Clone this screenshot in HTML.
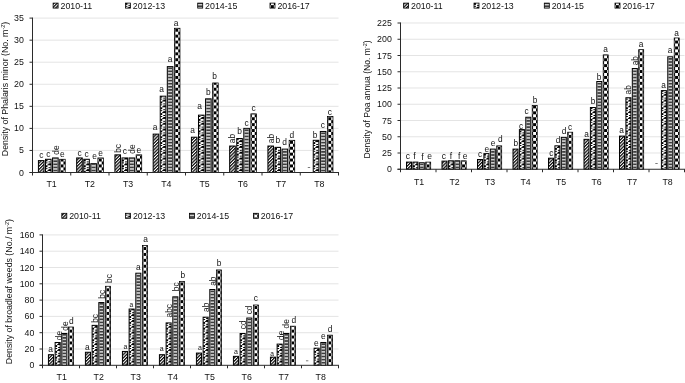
<!DOCTYPE html>
<html><head><meta charset="utf-8"><title>Chart</title>
<style>html,body{margin:0;padding:0;background:#fff;}body{width:685px;height:383px;overflow:hidden;font-family:"Liberation Sans",sans-serif;}svg{display:block;opacity:0.999;will-change:transform}</style>
</head><body>
<svg width="685" height="383" viewBox="0 0 685 383" font-family="Liberation Sans, sans-serif"><defs>
<pattern id="p0" patternUnits="userSpaceOnUse" width="2.3" height="2.3" patternTransform="rotate(45)">
<rect width="2.3" height="2.3" fill="#fff"/><rect width="1.25" height="2.3" fill="#0a0a0a"/></pattern>
<pattern id="p1" patternUnits="userSpaceOnUse" width="12" height="5.8" shape-rendering="crispEdges">
<rect width="12" height="5.8" fill="#fff"/>
<rect x="0" y="0.1" width="1.9" height="1.3" fill="#000"/>
<rect x="3.2" y="1.3" width="4" height="1.4" fill="#000"/>
<rect x="1.6" y="2.1" width="0.9" height="0.9" fill="#000"/>
<rect x="0.4" y="3.1" width="2.0" height="1.3" fill="#000"/>
<rect x="2.9" y="4.4" width="1.6" height="1.3" fill="#000"/>
<rect x="4.3" y="3.4" width="3" height="0.9" fill="#000"/>
</pattern>
<pattern id="p2" patternUnits="userSpaceOnUse" width="12" height="3.1">
<rect width="12" height="3.1" fill="#3c3c3c"/><rect y="0.9" width="12" height="1.35" fill="#e4e4e4"/></pattern>
<pattern id="p3" patternUnits="userSpaceOnUse" width="5.9" height="5.9" patternTransform="translate(0.9,2.2)">
<rect width="5.9" height="5.9" fill="#000"/><rect x="0" y="0" width="2.95" height="2.95" fill="#fff"/><rect x="2.95" y="2.95" width="2.95" height="2.95" fill="#fff"/></pattern>
</defs>
<line x1="32.5" y1="150.44" x2="338.5" y2="150.44" stroke="#d9d9d9" stroke-width="0.7"/>
<line x1="32.5" y1="128.39" x2="338.5" y2="128.39" stroke="#d9d9d9" stroke-width="0.7"/>
<line x1="32.5" y1="106.33" x2="338.5" y2="106.33" stroke="#d9d9d9" stroke-width="0.7"/>
<line x1="32.5" y1="84.27" x2="338.5" y2="84.27" stroke="#d9d9d9" stroke-width="0.7"/>
<line x1="32.5" y1="62.21" x2="338.5" y2="62.21" stroke="#d9d9d9" stroke-width="0.7"/>
<line x1="32.5" y1="40.16" x2="338.5" y2="40.16" stroke="#d9d9d9" stroke-width="0.7"/>
<line x1="32.5" y1="18.10" x2="338.5" y2="18.10" stroke="#d9d9d9" stroke-width="0.7"/>
<g transform="translate(38.42,0)"><rect x="0" y="160.59" width="5.6" height="11.91" fill="url(#p0)" stroke="#000" stroke-width="1.0"/></g>
<g transform="translate(45.49,0)"><rect x="0" y="159.27" width="5.6" height="13.23" fill="url(#p1)" stroke="#000" stroke-width="1.0"/></g>
<g transform="translate(52.56,0)"><rect x="0" y="157.94" width="5.6" height="14.56" fill="#a8a8a8" stroke="#000" stroke-width="1.0"/><rect x="0.9" y="158.44" width="3.80" height="14.06" fill="url(#p2)"/></g>
<g transform="translate(59.63,0)"><rect x="0" y="159.27" width="5.6" height="13.23" fill="url(#p3)" stroke="#000" stroke-width="0.75"/></g>
<g transform="translate(76.67,0)"><rect x="0" y="157.94" width="5.6" height="14.56" fill="url(#p0)" stroke="#000" stroke-width="1.0"/></g>
<g transform="translate(83.74,0)"><rect x="0" y="159.27" width="5.6" height="13.23" fill="url(#p1)" stroke="#000" stroke-width="1.0"/></g>
<g transform="translate(90.81,0)"><rect x="0" y="163.68" width="5.6" height="8.82" fill="#a8a8a8" stroke="#000" stroke-width="1.0"/><rect x="0.9" y="164.18" width="3.80" height="8.32" fill="url(#p2)"/></g>
<g transform="translate(97.88,0)"><rect x="0" y="157.94" width="5.6" height="14.56" fill="url(#p3)" stroke="#000" stroke-width="0.75"/></g>
<g transform="translate(114.92,0)"><rect x="0" y="154.85" width="5.6" height="17.65" fill="url(#p0)" stroke="#000" stroke-width="1.0"/></g>
<g transform="translate(121.99,0)"><rect x="0" y="157.94" width="5.6" height="14.56" fill="url(#p1)" stroke="#000" stroke-width="1.0"/></g>
<g transform="translate(129.06,0)"><rect x="0" y="157.94" width="5.6" height="14.56" fill="#a8a8a8" stroke="#000" stroke-width="1.0"/><rect x="0.9" y="158.44" width="3.80" height="14.06" fill="url(#p2)"/></g>
<g transform="translate(136.13,0)"><rect x="0" y="154.85" width="5.6" height="17.65" fill="url(#p3)" stroke="#000" stroke-width="0.75"/></g>
<g transform="translate(153.17,0)"><rect x="0" y="134.12" width="5.6" height="38.38" fill="url(#p0)" stroke="#000" stroke-width="1.0"/></g>
<g transform="translate(160.24,0)"><rect x="0" y="96.18" width="5.6" height="76.32" fill="url(#p1)" stroke="#000" stroke-width="1.0"/></g>
<g transform="translate(167.31,0)"><rect x="0" y="66.63" width="5.6" height="105.87" fill="#a8a8a8" stroke="#000" stroke-width="1.0"/><rect x="0.9" y="67.13" width="3.80" height="105.37" fill="url(#p2)"/></g>
<g transform="translate(174.38,0)"><rect x="0" y="28.25" width="5.6" height="144.25" fill="url(#p3)" stroke="#000" stroke-width="0.75"/></g>
<g transform="translate(191.42,0)"><rect x="0" y="137.21" width="5.6" height="35.29" fill="url(#p0)" stroke="#000" stroke-width="1.0"/></g>
<g transform="translate(198.49,0)"><rect x="0" y="115.15" width="5.6" height="57.35" fill="url(#p1)" stroke="#000" stroke-width="1.0"/></g>
<g transform="translate(205.56,0)"><rect x="0" y="98.83" width="5.6" height="73.67" fill="#a8a8a8" stroke="#000" stroke-width="1.0"/><rect x="0.9" y="99.33" width="3.80" height="73.17" fill="url(#p2)"/></g>
<g transform="translate(212.63,0)"><rect x="0" y="82.95" width="5.6" height="89.55" fill="url(#p3)" stroke="#000" stroke-width="0.75"/></g>
<g transform="translate(229.67,0)"><rect x="0" y="146.03" width="5.6" height="26.47" fill="url(#p0)" stroke="#000" stroke-width="1.0"/></g>
<g transform="translate(236.74,0)"><rect x="0" y="138.53" width="5.6" height="33.97" fill="url(#p1)" stroke="#000" stroke-width="1.0"/></g>
<g transform="translate(243.81,0)"><rect x="0" y="128.39" width="5.6" height="44.11" fill="#a8a8a8" stroke="#000" stroke-width="1.0"/><rect x="0.9" y="128.89" width="3.80" height="43.61" fill="url(#p2)"/></g>
<g transform="translate(250.88,0)"><rect x="0" y="113.83" width="5.6" height="58.67" fill="url(#p3)" stroke="#000" stroke-width="0.75"/></g>
<g transform="translate(267.92,0)"><rect x="0" y="146.03" width="5.6" height="26.47" fill="url(#p0)" stroke="#000" stroke-width="1.0"/></g>
<g transform="translate(274.99,0)"><rect x="0" y="147.35" width="5.6" height="25.15" fill="url(#p1)" stroke="#000" stroke-width="1.0"/></g>
<g transform="translate(282.06,0)"><rect x="0" y="149.12" width="5.6" height="23.38" fill="#a8a8a8" stroke="#000" stroke-width="1.0"/><rect x="0.9" y="149.62" width="3.80" height="22.88" fill="url(#p2)"/></g>
<g transform="translate(289.13,0)"><rect x="0" y="140.30" width="5.6" height="32.20" fill="url(#p3)" stroke="#000" stroke-width="0.75"/></g>
<g transform="translate(313.24,0)"><rect x="0" y="140.30" width="5.6" height="32.20" fill="url(#p1)" stroke="#000" stroke-width="1.0"/></g>
<g transform="translate(320.31,0)"><rect x="0" y="131.47" width="5.6" height="41.03" fill="#a8a8a8" stroke="#000" stroke-width="1.0"/><rect x="0.9" y="131.97" width="3.80" height="40.53" fill="url(#p2)"/></g>
<g transform="translate(327.38,0)"><rect x="0" y="116.47" width="5.6" height="56.03" fill="url(#p3)" stroke="#000" stroke-width="0.75"/></g>
<text x="41.22" y="158.39" font-size="8.4" text-anchor="middle" fill="#111" >c</text>
<text x="48.29" y="157.07" font-size="8.4" text-anchor="middle" fill="#111" >c</text>
<text transform="translate(59.06,154.74) rotate(-90)" font-size="8.4" fill="#111">de</text>
<text x="62.43" y="157.07" font-size="8.4" text-anchor="middle" fill="#111" >e</text>
<text x="79.47" y="155.74" font-size="8.4" text-anchor="middle" fill="#111" >c</text>
<text x="86.54" y="157.07" font-size="8.4" text-anchor="middle" fill="#111" >c</text>
<text x="94.61" y="158.98" font-size="8.4" text-anchor="middle" fill="#111" >e</text>
<text x="100.68" y="155.74" font-size="8.4" text-anchor="middle" fill="#111" >e</text>
<text transform="translate(121.02,152.85) rotate(-90)" font-size="8.4" fill="#111">bc</text>
<text x="124.79" y="154.24" font-size="8.4" text-anchor="middle" fill="#111" >c</text>
<text transform="translate(134.66,153.64) rotate(-90)" font-size="8.4" fill="#111">de</text>
<text x="138.93" y="152.65" font-size="8.4" text-anchor="middle" fill="#111" >e</text>
<text x="155.07" y="130.17" font-size="8.4" text-anchor="middle" fill="#111" >a</text>
<text x="161.64" y="91.98" font-size="8.4" text-anchor="middle" fill="#111" >a</text>
<text x="170.11" y="62.43" font-size="8.4" text-anchor="middle" fill="#111" >a</text>
<text x="176.18" y="26.05" font-size="8.4" text-anchor="middle" fill="#111" >a</text>
<text x="192.47" y="133.26" font-size="8.4" text-anchor="middle" fill="#111" >a</text>
<text x="199.54" y="108.95" font-size="8.4" text-anchor="middle" fill="#111" >a</text>
<text x="208.36" y="95.43" font-size="8.4" text-anchor="middle" fill="#111" >b</text>
<text x="214.63" y="78.75" font-size="8.4" text-anchor="middle" fill="#111" >b</text>
<text transform="translate(235.27,143.13) rotate(-90)" font-size="8.4" fill="#111">ab</text>
<text x="239.54" y="134.13" font-size="8.4" text-anchor="middle" fill="#111" >b</text>
<text x="246.61" y="126.19" font-size="8.4" text-anchor="middle" fill="#111" >c</text>
<text x="253.68" y="110.83" font-size="8.4" text-anchor="middle" fill="#111" >c</text>
<text transform="translate(274.02,143.13) rotate(-90)" font-size="8.4" fill="#111">ab</text>
<text x="277.79" y="143.25" font-size="8.4" text-anchor="middle" fill="#111" >b</text>
<text x="284.56" y="144.82" font-size="8.4" text-anchor="middle" fill="#111" >d</text>
<text x="291.93" y="138.10" font-size="8.4" text-anchor="middle" fill="#111" >d</text>
<rect x="307.77" y="167.30" width="2.4" height="0.7" fill="#444"/>
<text x="315.14" y="138.10" font-size="8.4" text-anchor="middle" fill="#111" >b</text>
<text x="322.81" y="127.52" font-size="8.4" text-anchor="middle" fill="#111" >c</text>
<text x="329.88" y="115.17" font-size="8.4" text-anchor="middle" fill="#111" >c</text>
<line x1="32.5" y1="17.6" x2="32.5" y2="175.5" stroke="#2b2b2b" stroke-width="1"/>
<line x1="29.5" y1="172.5" x2="339.0" y2="172.5" stroke="#2b2b2b" stroke-width="1"/>
<line x1="29.5" y1="172.50" x2="32.5" y2="172.50" stroke="#2b2b2b" stroke-width="1"/>
<text x="23.80" y="175.50" font-size="8.8" text-anchor="end" fill="#111" >0</text>
<line x1="29.5" y1="150.44" x2="32.5" y2="150.44" stroke="#2b2b2b" stroke-width="1"/>
<text x="23.80" y="153.44" font-size="8.8" text-anchor="end" fill="#111" >5</text>
<line x1="29.5" y1="128.39" x2="32.5" y2="128.39" stroke="#2b2b2b" stroke-width="1"/>
<text x="23.80" y="131.39" font-size="8.8" text-anchor="end" fill="#111" >10</text>
<line x1="29.5" y1="106.33" x2="32.5" y2="106.33" stroke="#2b2b2b" stroke-width="1"/>
<text x="23.80" y="109.33" font-size="8.8" text-anchor="end" fill="#111" >15</text>
<line x1="29.5" y1="84.27" x2="32.5" y2="84.27" stroke="#2b2b2b" stroke-width="1"/>
<text x="23.80" y="87.27" font-size="8.8" text-anchor="end" fill="#111" >20</text>
<line x1="29.5" y1="62.21" x2="32.5" y2="62.21" stroke="#2b2b2b" stroke-width="1"/>
<text x="23.80" y="65.21" font-size="8.8" text-anchor="end" fill="#111" >25</text>
<line x1="29.5" y1="40.16" x2="32.5" y2="40.16" stroke="#2b2b2b" stroke-width="1"/>
<text x="23.80" y="43.16" font-size="8.8" text-anchor="end" fill="#111" >30</text>
<line x1="29.5" y1="18.10" x2="32.5" y2="18.10" stroke="#2b2b2b" stroke-width="1"/>
<text x="23.80" y="21.10" font-size="8.8" text-anchor="end" fill="#111" >35</text>
<line x1="70.75" y1="172.5" x2="70.75" y2="175.5" stroke="#2b2b2b" stroke-width="1"/>
<line x1="109.00" y1="172.5" x2="109.00" y2="175.5" stroke="#2b2b2b" stroke-width="1"/>
<line x1="147.25" y1="172.5" x2="147.25" y2="175.5" stroke="#2b2b2b" stroke-width="1"/>
<line x1="185.50" y1="172.5" x2="185.50" y2="175.5" stroke="#2b2b2b" stroke-width="1"/>
<line x1="223.75" y1="172.5" x2="223.75" y2="175.5" stroke="#2b2b2b" stroke-width="1"/>
<line x1="262.00" y1="172.5" x2="262.00" y2="175.5" stroke="#2b2b2b" stroke-width="1"/>
<line x1="300.25" y1="172.5" x2="300.25" y2="175.5" stroke="#2b2b2b" stroke-width="1"/>
<line x1="338.50" y1="172.5" x2="338.50" y2="175.5" stroke="#2b2b2b" stroke-width="1"/>
<text x="51.62" y="186.70" font-size="8.8" text-anchor="middle" fill="#111" >T1</text>
<text x="89.88" y="186.70" font-size="8.8" text-anchor="middle" fill="#111" >T2</text>
<text x="128.12" y="186.70" font-size="8.8" text-anchor="middle" fill="#111" >T3</text>
<text x="166.38" y="186.70" font-size="8.8" text-anchor="middle" fill="#111" >T4</text>
<text x="204.62" y="186.70" font-size="8.8" text-anchor="middle" fill="#111" >T5</text>
<text x="242.88" y="186.70" font-size="8.8" text-anchor="middle" fill="#111" >T6</text>
<text x="281.12" y="186.70" font-size="8.8" text-anchor="middle" fill="#111" >T7</text>
<text x="319.38" y="186.70" font-size="8.8" text-anchor="middle" fill="#111" >T8</text>
<text transform="translate(7.5,89) rotate(-90)" font-size="8.8" text-anchor="middle" fill="#111">Density of Phalaris minor (No. m<tspan font-size="5.46" dy="-3">-2</tspan><tspan dy="3">)</tspan></text>
<g transform="translate(53.1,0)"><rect x="0" y="3.0999999999999996" width="5" height="5" fill="url(#p0)" stroke="#000" stroke-width="0.8"/></g>
<text x="60.50" y="8.70" font-size="8.8" text-anchor="start" fill="#111" >2010-11</text>
<g transform="translate(125.4,0)"><rect x="0" y="3.0999999999999996" width="5" height="5" fill="url(#p1)" stroke="#000" stroke-width="0.8"/></g>
<text x="132.80" y="8.70" font-size="8.8" text-anchor="start" fill="#111" >2012-13</text>
<g transform="translate(197.7,0)"><rect x="0" y="3.0999999999999996" width="5" height="5" fill="url(#p2)" stroke="#000" stroke-width="0.8"/></g>
<text x="205.10" y="8.70" font-size="8.8" text-anchor="start" fill="#111" >2014-15</text>
<g transform="translate(270.0,0)"><rect x="0" y="3.0999999999999996" width="5" height="5" fill="url(#p3)" stroke="#000" stroke-width="0.8"/></g>
<text x="277.40" y="8.70" font-size="8.8" text-anchor="start" fill="#111" >2016-17</text>
<line x1="400.5" y1="153.00" x2="684.5" y2="153.00" stroke="#d9d9d9" stroke-width="0.7"/>
<line x1="400.5" y1="136.75" x2="684.5" y2="136.75" stroke="#d9d9d9" stroke-width="0.7"/>
<line x1="400.5" y1="120.50" x2="684.5" y2="120.50" stroke="#d9d9d9" stroke-width="0.7"/>
<line x1="400.5" y1="104.25" x2="684.5" y2="104.25" stroke="#d9d9d9" stroke-width="0.7"/>
<line x1="400.5" y1="88.00" x2="684.5" y2="88.00" stroke="#d9d9d9" stroke-width="0.7"/>
<line x1="400.5" y1="71.75" x2="684.5" y2="71.75" stroke="#d9d9d9" stroke-width="0.7"/>
<line x1="400.5" y1="55.50" x2="684.5" y2="55.50" stroke="#d9d9d9" stroke-width="0.7"/>
<line x1="400.5" y1="39.25" x2="684.5" y2="39.25" stroke="#d9d9d9" stroke-width="0.7"/>
<line x1="400.5" y1="23.00" x2="684.5" y2="23.00" stroke="#d9d9d9" stroke-width="0.7"/>
<g transform="translate(406.50,0)"><rect x="0" y="162.10" width="5.0" height="7.15" fill="url(#p0)" stroke="#000" stroke-width="1.0"/></g>
<g transform="translate(412.90,0)"><rect x="0" y="162.10" width="5.0" height="7.15" fill="url(#p1)" stroke="#000" stroke-width="1.0"/></g>
<g transform="translate(419.30,0)"><rect x="0" y="162.75" width="5.0" height="6.50" fill="#a8a8a8" stroke="#000" stroke-width="1.0"/><rect x="0.9" y="163.25" width="3.20" height="6.00" fill="url(#p2)"/></g>
<g transform="translate(425.70,0)"><rect x="0" y="162.10" width="5.0" height="7.15" fill="url(#p3)" stroke="#000" stroke-width="0.75"/></g>
<g transform="translate(442.00,0)"><rect x="0" y="161.12" width="5.0" height="8.12" fill="url(#p0)" stroke="#000" stroke-width="1.0"/></g>
<g transform="translate(448.40,0)"><rect x="0" y="160.80" width="5.0" height="8.45" fill="url(#p1)" stroke="#000" stroke-width="1.0"/></g>
<g transform="translate(454.80,0)"><rect x="0" y="160.80" width="5.0" height="8.45" fill="#a8a8a8" stroke="#000" stroke-width="1.0"/><rect x="0.9" y="161.30" width="3.20" height="7.95" fill="url(#p2)"/></g>
<g transform="translate(461.20,0)"><rect x="0" y="160.80" width="5.0" height="8.45" fill="url(#p3)" stroke="#000" stroke-width="0.75"/></g>
<g transform="translate(477.50,0)"><rect x="0" y="159.50" width="5.0" height="9.75" fill="url(#p0)" stroke="#000" stroke-width="1.0"/></g>
<g transform="translate(483.90,0)"><rect x="0" y="153.65" width="5.0" height="15.60" fill="url(#p1)" stroke="#000" stroke-width="1.0"/></g>
<g transform="translate(490.30,0)"><rect x="0" y="149.10" width="5.0" height="20.15" fill="#a8a8a8" stroke="#000" stroke-width="1.0"/><rect x="0.9" y="149.60" width="3.20" height="19.65" fill="url(#p2)"/></g>
<g transform="translate(496.70,0)"><rect x="0" y="145.85" width="5.0" height="23.40" fill="url(#p3)" stroke="#000" stroke-width="0.75"/></g>
<g transform="translate(513.00,0)"><rect x="0" y="149.10" width="5.0" height="20.15" fill="url(#p0)" stroke="#000" stroke-width="1.0"/></g>
<g transform="translate(519.40,0)"><rect x="0" y="129.60" width="5.0" height="39.65" fill="url(#p1)" stroke="#000" stroke-width="1.0"/></g>
<g transform="translate(525.80,0)"><rect x="0" y="117.25" width="5.0" height="52.00" fill="#a8a8a8" stroke="#000" stroke-width="1.0"/><rect x="0.9" y="117.75" width="3.20" height="51.50" fill="url(#p2)"/></g>
<g transform="translate(532.20,0)"><rect x="0" y="105.55" width="5.0" height="63.70" fill="url(#p3)" stroke="#000" stroke-width="0.75"/></g>
<g transform="translate(548.50,0)"><rect x="0" y="158.20" width="5.0" height="11.05" fill="url(#p0)" stroke="#000" stroke-width="1.0"/></g>
<g transform="translate(554.90,0)"><rect x="0" y="145.85" width="5.0" height="23.40" fill="url(#p1)" stroke="#000" stroke-width="1.0"/></g>
<g transform="translate(561.30,0)"><rect x="0" y="137.40" width="5.0" height="31.85" fill="#a8a8a8" stroke="#000" stroke-width="1.0"/><rect x="0.9" y="137.90" width="3.20" height="31.35" fill="url(#p2)"/></g>
<g transform="translate(567.70,0)"><rect x="0" y="132.20" width="5.0" height="37.05" fill="url(#p3)" stroke="#000" stroke-width="0.75"/></g>
<g transform="translate(584.00,0)"><rect x="0" y="139.35" width="5.0" height="29.90" fill="url(#p0)" stroke="#000" stroke-width="1.0"/></g>
<g transform="translate(590.40,0)"><rect x="0" y="107.50" width="5.0" height="61.75" fill="url(#p1)" stroke="#000" stroke-width="1.0"/></g>
<g transform="translate(596.80,0)"><rect x="0" y="81.50" width="5.0" height="87.75" fill="#a8a8a8" stroke="#000" stroke-width="1.0"/><rect x="0.9" y="82.00" width="3.20" height="87.25" fill="url(#p2)"/></g>
<g transform="translate(603.20,0)"><rect x="0" y="54.85" width="5.0" height="114.40" fill="url(#p3)" stroke="#000" stroke-width="0.75"/></g>
<g transform="translate(619.50,0)"><rect x="0" y="136.10" width="5.0" height="33.15" fill="url(#p0)" stroke="#000" stroke-width="1.0"/></g>
<g transform="translate(625.90,0)"><rect x="0" y="97.75" width="5.0" height="71.50" fill="url(#p1)" stroke="#000" stroke-width="1.0"/></g>
<g transform="translate(632.30,0)"><rect x="0" y="68.50" width="5.0" height="100.75" fill="#a8a8a8" stroke="#000" stroke-width="1.0"/><rect x="0.9" y="69.00" width="3.20" height="100.25" fill="url(#p2)"/></g>
<g transform="translate(638.70,0)"><rect x="0" y="49.65" width="5.0" height="119.60" fill="url(#p3)" stroke="#000" stroke-width="0.75"/></g>
<g transform="translate(661.40,0)"><rect x="0" y="90.60" width="5.0" height="78.65" fill="url(#p1)" stroke="#000" stroke-width="1.0"/></g>
<g transform="translate(667.80,0)"><rect x="0" y="56.80" width="5.0" height="112.45" fill="#a8a8a8" stroke="#000" stroke-width="1.0"/><rect x="0.9" y="57.30" width="3.20" height="111.95" fill="url(#p2)"/></g>
<g transform="translate(674.20,0)"><rect x="0" y="37.95" width="5.0" height="131.30" fill="url(#p3)" stroke="#000" stroke-width="0.75"/></g>
<text x="407.80" y="159.00" font-size="8.5" text-anchor="middle" fill="#111" >c</text>
<text x="414.40" y="159.00" font-size="8.5" text-anchor="middle" fill="#111" >f</text>
<text x="422.50" y="159.65" font-size="8.5" text-anchor="middle" fill="#111" >f</text>
<text x="429.50" y="159.00" font-size="8.5" text-anchor="middle" fill="#111" >e</text>
<text x="443.90" y="158.93" font-size="8.5" text-anchor="middle" fill="#111" >c</text>
<text x="451.00" y="158.60" font-size="8.5" text-anchor="middle" fill="#111" >f</text>
<text x="459.20" y="158.60" font-size="8.5" text-anchor="middle" fill="#111" >f</text>
<text x="465.20" y="158.60" font-size="8.5" text-anchor="middle" fill="#111" >e</text>
<text x="480.00" y="157.30" font-size="8.3" text-anchor="middle" fill="#111" >c</text>
<text x="486.90" y="151.85" font-size="8.3" text-anchor="middle" fill="#111" >e</text>
<text x="493.10" y="146.40" font-size="8.3" text-anchor="middle" fill="#111" >e</text>
<text x="500.20" y="142.45" font-size="8.3" text-anchor="middle" fill="#111" >d</text>
<text x="515.70" y="146.40" font-size="8.3" text-anchor="middle" fill="#111" >b</text>
<text x="521.10" y="128.70" font-size="8.3" text-anchor="middle" fill="#111" >c</text>
<text x="526.60" y="113.85" font-size="8.3" text-anchor="middle" fill="#111" >c</text>
<text x="535.00" y="103.35" font-size="8.3" text-anchor="middle" fill="#111" >b</text>
<text x="551.40" y="156.00" font-size="8.3" text-anchor="middle" fill="#111" >c</text>
<text x="558.10" y="142.55" font-size="8.3" text-anchor="middle" fill="#111" >d</text>
<text x="564.10" y="134.10" font-size="8.3" text-anchor="middle" fill="#111" >d</text>
<text x="570.00" y="130.00" font-size="8.3" text-anchor="middle" fill="#111" >c</text>
<text x="586.50" y="137.15" font-size="8.3" text-anchor="middle" fill="#111" >a</text>
<text x="593.00" y="103.80" font-size="8.3" text-anchor="middle" fill="#111" >b</text>
<text x="599.00" y="79.80" font-size="8.3" text-anchor="middle" fill="#111" >b</text>
<text x="605.50" y="51.65" font-size="8.3" text-anchor="middle" fill="#111" >a</text>
<text x="621.60" y="132.70" font-size="8.3" text-anchor="middle" fill="#111" >a</text>
<text transform="translate(631.30,94.45) rotate(-90)" font-size="8.3" fill="#111">ab</text>
<text transform="translate(638.20,65.30) rotate(-90)" font-size="8.3" fill="#111">ab</text>
<text x="641.00" y="47.45" font-size="8.3" text-anchor="middle" fill="#111" >a</text>
<rect x="655.30" y="163.05" width="2.4" height="0.7" fill="#444"/>
<text x="663.50" y="88.40" font-size="8.3" text-anchor="middle" fill="#111" >a</text>
<text x="670.00" y="52.85" font-size="8.3" text-anchor="middle" fill="#111" >a</text>
<text x="676.50" y="35.75" font-size="8.3" text-anchor="middle" fill="#111" >a</text>
<line x1="400.5" y1="22.5" x2="400.5" y2="172.25" stroke="#2b2b2b" stroke-width="1"/>
<line x1="397.5" y1="169.25" x2="685.0" y2="169.25" stroke="#2b2b2b" stroke-width="1"/>
<line x1="397.5" y1="169.25" x2="400.5" y2="169.25" stroke="#2b2b2b" stroke-width="1"/>
<text x="391.80" y="172.25" font-size="8.8" text-anchor="end" fill="#111" >0</text>
<line x1="397.5" y1="153.00" x2="400.5" y2="153.00" stroke="#2b2b2b" stroke-width="1"/>
<text x="391.80" y="156.00" font-size="8.8" text-anchor="end" fill="#111" >25</text>
<line x1="397.5" y1="136.75" x2="400.5" y2="136.75" stroke="#2b2b2b" stroke-width="1"/>
<text x="391.80" y="139.75" font-size="8.8" text-anchor="end" fill="#111" >50</text>
<line x1="397.5" y1="120.50" x2="400.5" y2="120.50" stroke="#2b2b2b" stroke-width="1"/>
<text x="391.80" y="123.50" font-size="8.8" text-anchor="end" fill="#111" >75</text>
<line x1="397.5" y1="104.25" x2="400.5" y2="104.25" stroke="#2b2b2b" stroke-width="1"/>
<text x="391.80" y="107.25" font-size="8.8" text-anchor="end" fill="#111" >100</text>
<line x1="397.5" y1="88.00" x2="400.5" y2="88.00" stroke="#2b2b2b" stroke-width="1"/>
<text x="391.80" y="91.00" font-size="8.8" text-anchor="end" fill="#111" >125</text>
<line x1="397.5" y1="71.75" x2="400.5" y2="71.75" stroke="#2b2b2b" stroke-width="1"/>
<text x="391.80" y="74.75" font-size="8.8" text-anchor="end" fill="#111" >150</text>
<line x1="397.5" y1="55.50" x2="400.5" y2="55.50" stroke="#2b2b2b" stroke-width="1"/>
<text x="391.80" y="58.50" font-size="8.8" text-anchor="end" fill="#111" >175</text>
<line x1="397.5" y1="39.25" x2="400.5" y2="39.25" stroke="#2b2b2b" stroke-width="1"/>
<text x="391.80" y="42.25" font-size="8.8" text-anchor="end" fill="#111" >200</text>
<line x1="397.5" y1="23.00" x2="400.5" y2="23.00" stroke="#2b2b2b" stroke-width="1"/>
<text x="391.80" y="26.00" font-size="8.8" text-anchor="end" fill="#111" >225</text>
<line x1="436.00" y1="169.25" x2="436.00" y2="172.25" stroke="#2b2b2b" stroke-width="1"/>
<line x1="471.50" y1="169.25" x2="471.50" y2="172.25" stroke="#2b2b2b" stroke-width="1"/>
<line x1="507.00" y1="169.25" x2="507.00" y2="172.25" stroke="#2b2b2b" stroke-width="1"/>
<line x1="542.50" y1="169.25" x2="542.50" y2="172.25" stroke="#2b2b2b" stroke-width="1"/>
<line x1="578.00" y1="169.25" x2="578.00" y2="172.25" stroke="#2b2b2b" stroke-width="1"/>
<line x1="613.50" y1="169.25" x2="613.50" y2="172.25" stroke="#2b2b2b" stroke-width="1"/>
<line x1="649.00" y1="169.25" x2="649.00" y2="172.25" stroke="#2b2b2b" stroke-width="1"/>
<line x1="684.50" y1="169.25" x2="684.50" y2="172.25" stroke="#2b2b2b" stroke-width="1"/>
<text x="419.05" y="184.80" font-size="8.8" text-anchor="middle" fill="#111" >T1</text>
<text x="454.55" y="184.80" font-size="8.8" text-anchor="middle" fill="#111" >T2</text>
<text x="490.05" y="184.80" font-size="8.8" text-anchor="middle" fill="#111" >T3</text>
<text x="525.55" y="184.80" font-size="8.8" text-anchor="middle" fill="#111" >T4</text>
<text x="561.05" y="184.80" font-size="8.8" text-anchor="middle" fill="#111" >T5</text>
<text x="596.55" y="184.80" font-size="8.8" text-anchor="middle" fill="#111" >T6</text>
<text x="632.05" y="184.80" font-size="8.8" text-anchor="middle" fill="#111" >T7</text>
<text x="667.55" y="184.80" font-size="8.8" text-anchor="middle" fill="#111" >T8</text>
<text transform="translate(370,99.4) rotate(-90)" font-size="8.6" text-anchor="middle" fill="#111">Density of Poa annua (No. m<tspan font-size="5.46" dy="-3">-2</tspan><tspan dy="3">)</tspan></text>
<g transform="translate(403.6,0)"><rect x="0" y="3.0999999999999996" width="5" height="5" fill="url(#p0)" stroke="#000" stroke-width="0.8"/></g>
<text x="411.00" y="8.70" font-size="8.8" text-anchor="start" fill="#111" >2010-11</text>
<g transform="translate(474.0,0)"><rect x="0" y="3.0999999999999996" width="5" height="5" fill="url(#p1)" stroke="#000" stroke-width="0.8"/></g>
<text x="481.40" y="8.70" font-size="8.8" text-anchor="start" fill="#111" >2012-13</text>
<g transform="translate(544.3,0)"><rect x="0" y="3.0999999999999996" width="5" height="5" fill="url(#p2)" stroke="#000" stroke-width="0.8"/></g>
<text x="551.70" y="8.70" font-size="8.8" text-anchor="start" fill="#111" >2014-15</text>
<g transform="translate(615.0,0)"><rect x="0" y="3.0999999999999996" width="5" height="5" fill="url(#p3)" stroke="#000" stroke-width="0.8"/></g>
<text x="622.40" y="8.70" font-size="8.8" text-anchor="start" fill="#111" >2016-17</text>
<line x1="42.5" y1="349.00" x2="338.5" y2="349.00" stroke="#d9d9d9" stroke-width="0.7"/>
<line x1="42.5" y1="332.70" x2="338.5" y2="332.70" stroke="#d9d9d9" stroke-width="0.7"/>
<line x1="42.5" y1="316.40" x2="338.5" y2="316.40" stroke="#d9d9d9" stroke-width="0.7"/>
<line x1="42.5" y1="300.10" x2="338.5" y2="300.10" stroke="#d9d9d9" stroke-width="0.7"/>
<line x1="42.5" y1="283.80" x2="338.5" y2="283.80" stroke="#d9d9d9" stroke-width="0.7"/>
<line x1="42.5" y1="267.50" x2="338.5" y2="267.50" stroke="#d9d9d9" stroke-width="0.7"/>
<line x1="42.5" y1="251.20" x2="338.5" y2="251.20" stroke="#d9d9d9" stroke-width="0.7"/>
<line x1="42.5" y1="234.90" x2="338.5" y2="234.90" stroke="#d9d9d9" stroke-width="0.7"/>
<g transform="translate(48.43,0)"><rect x="0" y="354.70" width="5.05" height="10.60" fill="url(#p0)" stroke="#000" stroke-width="1.0"/></g>
<g transform="translate(55.13,0)"><rect x="0" y="342.48" width="5.05" height="22.82" fill="url(#p1)" stroke="#000" stroke-width="1.0"/></g>
<g transform="translate(61.83,0)"><rect x="0" y="333.51" width="5.05" height="31.79" fill="#a8a8a8" stroke="#000" stroke-width="1.0"/><rect x="0.9" y="334.01" width="3.25" height="31.29" fill="url(#p2)"/></g>
<g transform="translate(68.53,0)"><rect x="0" y="327.00" width="5.05" height="38.30" fill="url(#p3)" stroke="#000" stroke-width="0.75"/></g>
<g transform="translate(85.42,0)"><rect x="0" y="352.26" width="5.05" height="13.04" fill="url(#p0)" stroke="#000" stroke-width="1.0"/></g>
<g transform="translate(92.12,0)"><rect x="0" y="325.37" width="5.05" height="39.94" fill="url(#p1)" stroke="#000" stroke-width="1.0"/></g>
<g transform="translate(98.83,0)"><rect x="0" y="302.55" width="5.05" height="62.76" fill="#a8a8a8" stroke="#000" stroke-width="1.0"/><rect x="0.9" y="303.05" width="3.25" height="62.26" fill="url(#p2)"/></g>
<g transform="translate(105.53,0)"><rect x="0" y="286.25" width="5.05" height="79.06" fill="url(#p3)" stroke="#000" stroke-width="0.75"/></g>
<g transform="translate(122.42,0)"><rect x="0" y="351.44" width="5.05" height="13.86" fill="url(#p0)" stroke="#000" stroke-width="1.0"/></g>
<g transform="translate(129.12,0)"><rect x="0" y="309.06" width="5.05" height="56.24" fill="url(#p1)" stroke="#000" stroke-width="1.0"/></g>
<g transform="translate(135.82,0)"><rect x="0" y="273.20" width="5.05" height="92.10" fill="#a8a8a8" stroke="#000" stroke-width="1.0"/><rect x="0.9" y="273.70" width="3.25" height="91.60" fill="url(#p2)"/></g>
<g transform="translate(142.53,0)"><rect x="0" y="245.50" width="5.05" height="119.81" fill="url(#p3)" stroke="#000" stroke-width="0.75"/></g>
<g transform="translate(159.42,0)"><rect x="0" y="354.70" width="5.05" height="10.60" fill="url(#p0)" stroke="#000" stroke-width="1.0"/></g>
<g transform="translate(166.12,0)"><rect x="0" y="322.92" width="5.05" height="42.38" fill="url(#p1)" stroke="#000" stroke-width="1.0"/></g>
<g transform="translate(172.82,0)"><rect x="0" y="296.84" width="5.05" height="68.46" fill="#a8a8a8" stroke="#000" stroke-width="1.0"/><rect x="0.9" y="297.34" width="3.25" height="67.96" fill="url(#p2)"/></g>
<g transform="translate(179.52,0)"><rect x="0" y="281.36" width="5.05" height="83.95" fill="url(#p3)" stroke="#000" stroke-width="0.75"/></g>
<g transform="translate(196.42,0)"><rect x="0" y="353.07" width="5.05" height="12.23" fill="url(#p0)" stroke="#000" stroke-width="1.0"/></g>
<g transform="translate(203.12,0)"><rect x="0" y="317.22" width="5.05" height="48.09" fill="url(#p1)" stroke="#000" stroke-width="1.0"/></g>
<g transform="translate(209.82,0)"><rect x="0" y="289.50" width="5.05" height="75.80" fill="#a8a8a8" stroke="#000" stroke-width="1.0"/><rect x="0.9" y="290.00" width="3.25" height="75.30" fill="url(#p2)"/></g>
<g transform="translate(216.52,0)"><rect x="0" y="269.94" width="5.05" height="95.36" fill="url(#p3)" stroke="#000" stroke-width="0.75"/></g>
<g transform="translate(233.42,0)"><rect x="0" y="356.34" width="5.05" height="8.96" fill="url(#p0)" stroke="#000" stroke-width="1.0"/></g>
<g transform="translate(240.12,0)"><rect x="0" y="333.51" width="5.05" height="31.79" fill="url(#p1)" stroke="#000" stroke-width="1.0"/></g>
<g transform="translate(246.82,0)"><rect x="0" y="318.03" width="5.05" height="47.27" fill="#a8a8a8" stroke="#000" stroke-width="1.0"/><rect x="0.9" y="318.53" width="3.25" height="46.77" fill="url(#p2)"/></g>
<g transform="translate(253.52,0)"><rect x="0" y="304.99" width="5.05" height="60.31" fill="url(#p3)" stroke="#000" stroke-width="0.75"/></g>
<g transform="translate(270.43,0)"><rect x="0" y="357.15" width="5.05" height="8.15" fill="url(#p0)" stroke="#000" stroke-width="1.0"/></g>
<g transform="translate(277.12,0)"><rect x="0" y="344.11" width="5.05" height="21.19" fill="url(#p1)" stroke="#000" stroke-width="1.0"/></g>
<g transform="translate(283.82,0)"><rect x="0" y="333.51" width="5.05" height="31.79" fill="#a8a8a8" stroke="#000" stroke-width="1.0"/><rect x="0.9" y="334.01" width="3.25" height="31.29" fill="url(#p2)"/></g>
<g transform="translate(290.53,0)"><rect x="0" y="326.18" width="5.05" height="39.12" fill="url(#p3)" stroke="#000" stroke-width="0.75"/></g>
<g transform="translate(314.12,0)"><rect x="0" y="348.19" width="5.05" height="17.12" fill="url(#p1)" stroke="#000" stroke-width="1.0"/></g>
<g transform="translate(320.82,0)"><rect x="0" y="342.48" width="5.05" height="22.82" fill="#a8a8a8" stroke="#000" stroke-width="1.0"/><rect x="0.9" y="342.98" width="3.25" height="22.32" fill="url(#p2)"/></g>
<g transform="translate(327.53,0)"><rect x="0" y="335.14" width="5.05" height="30.16" fill="url(#p3)" stroke="#000" stroke-width="0.75"/></g>
<text x="50.55" y="351.70" font-size="8.4" text-anchor="middle" fill="#111" >a</text>
<text transform="translate(62.15,340.28) rotate(-90)" font-size="8.4" fill="#111">de</text>
<text transform="translate(68.15,330.71) rotate(-90)" font-size="8.4" fill="#111">de</text>
<text x="71.45" y="323.50" font-size="8.4" text-anchor="middle" fill="#111" >d</text>
<text x="87.25" y="349.76" font-size="8.4" text-anchor="middle" fill="#111" >a</text>
<text transform="translate(98.35,322.87) rotate(-90)" font-size="8.4" fill="#111">bc</text>
<text transform="translate(105.05,298.75) rotate(-90)" font-size="8.4" fill="#111">bc</text>
<text transform="translate(111.85,282.94) rotate(-90)" font-size="8.4" fill="#111">bc</text>
<text x="125.35" y="348.94" font-size="7.0" text-anchor="middle" fill="#111" >a</text>
<text x="131.45" y="306.76" font-size="6.6" text-anchor="middle" fill="#111" >a</text>
<text x="138.35" y="270.20" font-size="8.4" text-anchor="middle" fill="#111" >a</text>
<text x="145.65" y="241.50" font-size="8.4" text-anchor="middle" fill="#111" >a</text>
<text x="161.75" y="351.20" font-size="7.0" text-anchor="middle" fill="#111" >a</text>
<text transform="translate(172.05,317.52) rotate(-90)" font-size="8.4" fill="#111">abc</text>
<text transform="translate(179.05,291.24) rotate(-90)" font-size="8.4" fill="#111">bc</text>
<text x="182.75" y="277.86" font-size="8.4" text-anchor="middle" fill="#111" >b</text>
<text x="200.05" y="349.77" font-size="7.0" text-anchor="middle" fill="#111" >a</text>
<text transform="translate(208.95,312.02) rotate(-90)" font-size="8.4" fill="#111">ab</text>
<text transform="translate(215.55,285.81) rotate(-90)" font-size="8.4" fill="#111">ab</text>
<text x="219.05" y="266.35" font-size="8.4" text-anchor="middle" fill="#111" >b</text>
<text x="235.95" y="353.74" font-size="7.0" text-anchor="middle" fill="#111" >a</text>
<text transform="translate(245.85,329.21) rotate(-90)" font-size="8.4" fill="#111">cd</text>
<text transform="translate(252.15,314.33) rotate(-90)" font-size="8.4" fill="#111">cd</text>
<text x="255.75" y="300.99" font-size="8.4" text-anchor="middle" fill="#111" >c</text>
<text x="272.05" y="355.85" font-size="6.6" text-anchor="middle" fill="#111" >a</text>
<text transform="translate(283.95,339.91) rotate(-90)" font-size="8.4" fill="#111">de</text>
<text transform="translate(289.15,328.51) rotate(-90)" font-size="8.4" fill="#111">de</text>
<text x="293.85" y="323.18" font-size="8.4" text-anchor="middle" fill="#111" >d</text>
<rect x="305.95" y="360.50" width="2.4" height="0.7" fill="#444"/>
<text x="316.25" y="346.09" font-size="8.4" text-anchor="middle" fill="#111" >e</text>
<text x="323.35" y="339.48" font-size="8.4" text-anchor="middle" fill="#111" >e</text>
<text x="330.05" y="331.75" font-size="8.4" text-anchor="middle" fill="#111" >d</text>
<line x1="42.5" y1="234.4" x2="42.5" y2="368.3" stroke="#2b2b2b" stroke-width="1"/>
<line x1="39.5" y1="365.3" x2="339.0" y2="365.3" stroke="#2b2b2b" stroke-width="1"/>
<line x1="39.5" y1="365.30" x2="42.5" y2="365.30" stroke="#2b2b2b" stroke-width="1"/>
<text x="34.40" y="368.30" font-size="8.8" text-anchor="end" fill="#111" >0</text>
<line x1="39.5" y1="349.00" x2="42.5" y2="349.00" stroke="#2b2b2b" stroke-width="1"/>
<text x="34.40" y="352.00" font-size="8.8" text-anchor="end" fill="#111" >20</text>
<line x1="39.5" y1="332.70" x2="42.5" y2="332.70" stroke="#2b2b2b" stroke-width="1"/>
<text x="34.40" y="335.70" font-size="8.8" text-anchor="end" fill="#111" >40</text>
<line x1="39.5" y1="316.40" x2="42.5" y2="316.40" stroke="#2b2b2b" stroke-width="1"/>
<text x="34.40" y="319.40" font-size="8.8" text-anchor="end" fill="#111" >60</text>
<line x1="39.5" y1="300.10" x2="42.5" y2="300.10" stroke="#2b2b2b" stroke-width="1"/>
<text x="34.40" y="303.10" font-size="8.8" text-anchor="end" fill="#111" >80</text>
<line x1="39.5" y1="283.80" x2="42.5" y2="283.80" stroke="#2b2b2b" stroke-width="1"/>
<text x="34.40" y="286.80" font-size="8.8" text-anchor="end" fill="#111" >100</text>
<line x1="39.5" y1="267.50" x2="42.5" y2="267.50" stroke="#2b2b2b" stroke-width="1"/>
<text x="34.40" y="270.50" font-size="8.8" text-anchor="end" fill="#111" >120</text>
<line x1="39.5" y1="251.20" x2="42.5" y2="251.20" stroke="#2b2b2b" stroke-width="1"/>
<text x="34.40" y="254.20" font-size="8.8" text-anchor="end" fill="#111" >140</text>
<line x1="39.5" y1="234.90" x2="42.5" y2="234.90" stroke="#2b2b2b" stroke-width="1"/>
<text x="34.40" y="237.90" font-size="8.8" text-anchor="end" fill="#111" >160</text>
<line x1="79.50" y1="365.3" x2="79.50" y2="368.3" stroke="#2b2b2b" stroke-width="1"/>
<line x1="116.50" y1="365.3" x2="116.50" y2="368.3" stroke="#2b2b2b" stroke-width="1"/>
<line x1="153.50" y1="365.3" x2="153.50" y2="368.3" stroke="#2b2b2b" stroke-width="1"/>
<line x1="190.50" y1="365.3" x2="190.50" y2="368.3" stroke="#2b2b2b" stroke-width="1"/>
<line x1="227.50" y1="365.3" x2="227.50" y2="368.3" stroke="#2b2b2b" stroke-width="1"/>
<line x1="264.50" y1="365.3" x2="264.50" y2="368.3" stroke="#2b2b2b" stroke-width="1"/>
<line x1="301.50" y1="365.3" x2="301.50" y2="368.3" stroke="#2b2b2b" stroke-width="1"/>
<line x1="338.50" y1="365.3" x2="338.50" y2="368.3" stroke="#2b2b2b" stroke-width="1"/>
<text x="61.70" y="379.90" font-size="8.8" text-anchor="middle" fill="#111" >T1</text>
<text x="98.70" y="379.90" font-size="8.8" text-anchor="middle" fill="#111" >T2</text>
<text x="135.70" y="379.90" font-size="8.8" text-anchor="middle" fill="#111" >T3</text>
<text x="172.70" y="379.90" font-size="8.8" text-anchor="middle" fill="#111" >T4</text>
<text x="209.70" y="379.90" font-size="8.8" text-anchor="middle" fill="#111" >T5</text>
<text x="246.70" y="379.90" font-size="8.8" text-anchor="middle" fill="#111" >T6</text>
<text x="283.70" y="379.90" font-size="8.8" text-anchor="middle" fill="#111" >T7</text>
<text x="320.70" y="379.90" font-size="8.8" text-anchor="middle" fill="#111" >T8</text>
<text transform="translate(11.8,291.6) rotate(-90)" font-size="8.8" text-anchor="middle" fill="#111">Density of broadleaf weeds (No./ m<tspan font-size="5.46" dy="-3">-2</tspan><tspan dy="3">)</tspan></text>
<g transform="translate(61.8,0)"><rect x="0" y="213.3" width="5" height="5" fill="url(#p0)" stroke="#000" stroke-width="0.8"/></g>
<text x="69.20" y="218.90" font-size="8.8" text-anchor="start" fill="#111" >2010-11</text>
<g transform="translate(125.5,0)"><rect x="0" y="213.3" width="5" height="5" fill="url(#p1)" stroke="#000" stroke-width="0.8"/></g>
<text x="132.90" y="218.90" font-size="8.8" text-anchor="start" fill="#111" >2012-13</text>
<g transform="translate(189.4,0)"><rect x="0" y="213.3" width="5" height="5" fill="url(#p2)" stroke="#000" stroke-width="0.8"/></g>
<text x="196.80" y="218.90" font-size="8.8" text-anchor="start" fill="#111" >2014-15</text>
<g transform="translate(253.4,0)"><rect x="0" y="213.3" width="5" height="5" fill="url(#p3)" stroke="#000" stroke-width="0.8"/></g>
<text x="260.80" y="218.90" font-size="8.8" text-anchor="start" fill="#111" >2016-17</text></svg>
</body></html>
